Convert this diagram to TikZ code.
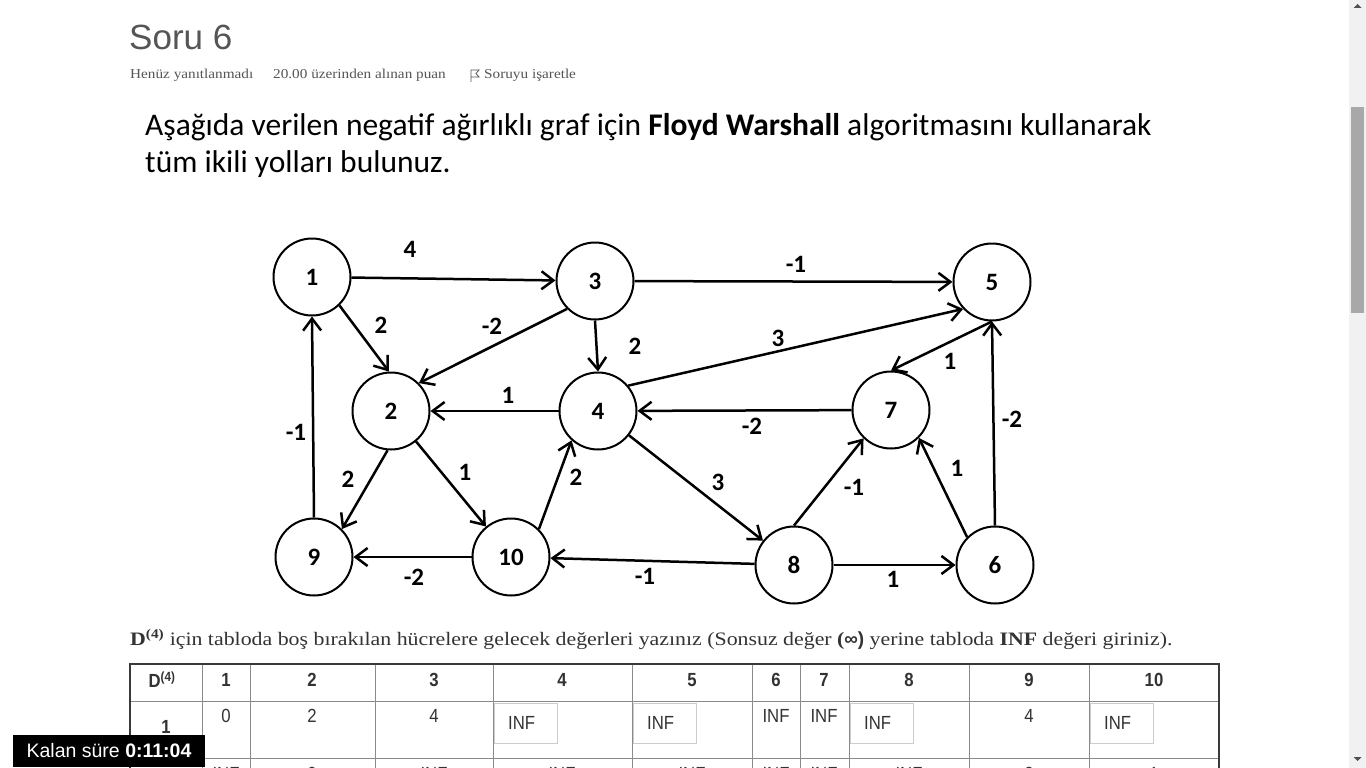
\documentclass[tikz,border=0pt]{standalone}
\usepackage{fontspec}
\setmainfont{Liberation Serif}
\newfontfamily\calibri{Carlito}
\newfontfamily\arial{Liberation Sans}
\newfontfamily\narrow[FakeStretch=0.88]{Liberation Sans}
\newfontfamily\georgia[FakeStretch=1.15]{Liberation Serif}
\newfontfamily\georgiameta[FakeStretch=1.12]{Liberation Serif}
\usetikzlibrary{arrows.meta}
\definecolor{titlegray}{HTML}{555555}
\definecolor{metagray}{HTML}{555555}
\definecolor{tabdark}{HTML}{3A3A3A}
\definecolor{tabline}{HTML}{8A8A8A}
\definecolor{boxline}{HTML}{CCCCCC}
\definecolor{tabtext}{HTML}{333333}
\definecolor{sbbg}{HTML}{F1F1F1}
\definecolor{sbthumb}{HTML}{A8A8A8}
\definecolor{sbarrow}{HTML}{505050}
\tikzset{
  vtx/.style={circle, draw=black, fill=white, line width=2pt, minimum size=77pt, inner sep=0pt,
    font=\calibri\bfseries\fontsize{25}{28}\selectfont},
  wlab/.style={inner sep=0pt, font=\calibri\bfseries\fontsize{25}{28}\selectfont},
  edge/.style={line width=2.5pt, draw=black, -{Straight Barb[length=12pt,width=18pt,line width=2.5pt]}},
  hdr/.style={inner sep=0pt, text=tabtext, font=\narrow\bfseries\fontsize{19}{21}\selectfont},
  cell/.style={inner sep=0pt, text=tabtext, font=\narrow\fontsize{19}{21}\selectfont},
  inbox/.style={draw=boxline, line width=1pt, fill=white, minimum width=63pt, minimum height=40pt, inner sep=0pt},
  meta/.style={inner sep=0pt, anchor=base west, text=metagray, font=\georgiameta\fontsize{13.6}{15}\selectfont},
}
\begin{document}
\begin{tikzpicture}[x=1pt,y=-1pt]
\useasboundingbox (0,0) rectangle (1366,768);
\fill[white] (0,0) rectangle (1366,768);

% header
\node[inner sep=0pt, anchor=base west, text=titlegray, font=\arial\fontsize{35}{40}\selectfont] (title) at (129,50) {Soru 6};
\node[meta] (m1) at (130,79) {Henüz yanıtlanmadı};
\node[meta] (m2) at (273,79) {20.00 üzerinden alınan puan};
\node[meta] (m3) at (484,79) {Soruyu işaretle};
\draw[metagray, line width=0.8pt] (471,82) -- (471,70) -- (479,70) -- (476,73.5) -- (479,77) -- (471,77);

% question
\node[inner sep=0pt, anchor=base west, font=\calibri\fontsize{31.5}{36}\selectfont] (q1) at (145,135)
  {Aşağıda verilen negatif ağırlıklı graf için \textbf{Floyd Warshall} algoritmasını kullanarak};
\node[inner sep=0pt, anchor=base west, font=\calibri\fontsize{31.5}{36}\selectfont] (q2) at (145,172)
  {tüm ikili yolları bulunuz.};

% graph nodes
\node[vtx] (n1) at (312,277) {1};
\node[vtx] (n3) at (595,281) {3};
\node[vtx] (n5) at (992,282) {5};
\node[vtx] (n2) at (391,411) {2};
\node[vtx] (n4) at (598,411) {4};
\node[vtx] (n7) at (891,410) {7};
\node[vtx] (n9) at (314,557) {9};
\node[vtx] (n10) at (511,557) {10};
\node[vtx] (n8) at (794,565) {8};
\node[vtx] (n6) at (995,565) {6};

% edges
\draw[edge] (n1) -- (n3);
\draw[edge] (n1.-46) -- (n2.93);
\draw[edge] (n3.225) -- (n2.45);
\draw[edge] (n3.south) -- (n4.north);
\draw[edge] (n3) -- (n5);
\draw[edge] (n4) -- (n2);
\draw[edge] (n4.40) -- (n5.223);
\draw[edge] (n5.south) -- (n7.north);
\draw[edge] (n7) -- (n4);
\draw[edge] (n6.north) -- (n5.south);
\draw[edge] (n9.north) -- (n1.south);
\draw[edge] (n2.265) -- (n9.45);
\draw[edge] (n2) -- (n10);
\draw[edge] (n10.45) -- (n4.228);
\draw[edge] (n4) -- (n8);
\draw[edge] (n8.north) -- (n7.226);
\draw[edge] (n6.135) -- (n7.-45);
\draw[edge] (n10) -- (n9);
\draw[edge] (n8) -- (n10);
\draw[edge] (n8) -- (n6);

% weights
\node[wlab] (w13) at (410,249) {4};
\node[wlab] (w12) at (381,325) {2};
\node[wlab] (w32) at (492,326) {-2};
\node[wlab] (w34) at (635,346) {2};
\node[wlab] (w35) at (796,264) {-1};
\node[wlab] (w42) at (508,395) {1};
\node[wlab] (w45) at (778,338) {3};
\node[wlab] (w57) at (950,361) {1};
\node[wlab] (w74) at (752,426) {-2};
\node[wlab] (w65) at (1012,419) {-2};
\node[wlab] (w91) at (296,432) {-1};
\node[wlab] (w29) at (348,479) {2};
\node[wlab] (w210) at (465,472) {1};
\node[wlab] (w104) at (576,477) {2};
\node[wlab] (w48) at (718,482) {3};
\node[wlab] (w87) at (854,487) {-1};
\node[wlab] (w67) at (957,468) {1};
\node[wlab] (w109) at (414,577) {-2};
\node[wlab] (w810) at (645,576) {-1};
\node[wlab] (w86) at (893,579) {1};

% prompt
\node[inner sep=0pt, anchor=base west, text=tabtext, font=\georgia\fontsize{19}{22}\selectfont] (prompt) at (130,645)
  {\textbf{D\textsuperscript{(4)}} için tabloda boş bırakılan hücrelere gelecek değerleri yazınız (Sonsuz değer \textbf{(\arial∞)} yerine tabloda \textbf{INF} değeri giriniz).};

% table lines
\foreach \x in {202,250,375,493,632,752,800,849,969,1089}
  \draw[tabline, line width=1pt] (\x,664) -- (\x,770);
\draw[tabline, line width=1pt] (130,701) -- (1219,701);
\draw[tabline, line width=1pt] (130,758) -- (1219,758);
\draw[tabdark, line width=1.2pt] (130,770) -- (130,664) -- (1219,664) -- (1219,770);

% header row
\node[hdr] (hD) at (162,680) {D\textsuperscript{(4)}};
\node[hdr] (h1) at (226,680) {1};
\node[hdr] (h2) at (312,680) {2};
\node[hdr] (h3) at (434,680) {3};
\node[hdr] (h4) at (562,680) {4};
\node[hdr] (h5) at (692,680) {5};
\node[hdr] (h6) at (776,680) {6};
\node[hdr] (h7) at (824,680) {7};
\node[hdr] (h8) at (909,680) {8};
\node[hdr] (h9) at (1029,680) {9};
\node[hdr] (h10) at (1154,680) {10};

% row 1
\node[hdr] (r1) at (166,727) {1};
\node[cell] (c11) at (226,716) {0};
\node[cell] (c12) at (312,716) {2};
\node[cell] (c13) at (434,716) {4};
\node[inbox] (b14) at (525.5,723) {};
\node[cell, anchor=west] (c14) at (508,723) {INF};
\node[inbox] (b15) at (664.5,723) {};
\node[cell, anchor=west] (c15) at (647,723) {INF};
\node[cell] (c16) at (776,716) {INF};
\node[cell] (c17) at (824,716) {INF};
\node[inbox] (b18) at (881.5,723) {};
\node[cell, anchor=west] (c18) at (864,723) {INF};
\node[cell] (c19) at (1029,716) {4};
\node[inbox] (b110) at (1121.5,723) {};
\node[cell, anchor=west] (c110) at (1104,723) {INF};

% row 2 (cut off by the window edge)
\node[cell] (c21) at (226,774) {INF};
\node[cell] (c22) at (312,774) {0};
\node[cell] (c23) at (434,774) {INF};
\node[cell] (c24) at (562,774) {INF};
\node[cell] (c25) at (692,774) {INF};
\node[cell] (c26) at (776,774) {INF};
\node[cell] (c27) at (824,774) {INF};
\node[cell] (c28) at (909,774) {INF};
\node[cell] (c29) at (1029,774) {2};
\node[cell] (c210) at (1154,774) {1};

% timer box
\node[fill=black, minimum width=192pt, minimum height=32pt, inner sep=0pt, text=white,
  font=\arial\fontsize{19.5}{21}\selectfont] (timer) at (109,751) {Kalan süre \textbf{0:11:04}};

% scrollbar
\fill[sbbg] (1349,0) rectangle (1366,768);
\fill[sbthumb] (1351,107) rectangle (1364,313);
\fill[sbarrow] (1353.5,8) -- (1361.5,8) -- (1357.5,4) -- cycle;
\fill[sbarrow] (1353.5,757) -- (1361.5,757) -- (1357.5,761) -- cycle;
\end{tikzpicture}
\end{document}
